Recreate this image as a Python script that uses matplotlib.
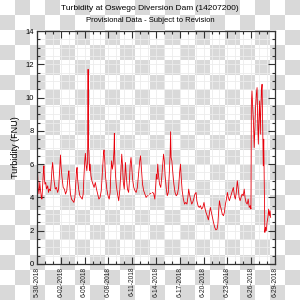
import numpy as np
import matplotlib
matplotlib.use("Agg")
import matplotlib.pyplot as plt
from matplotlib.ticker import MultipleLocator

plt.rcParams['font.family'] = ['Liberation Sans', 'DejaVu Sans']

title = "Turbidity at Oswego Diversion Dam (14207200)"
subtitle = "Provisional Data - Subject to Revision"
ylabel = "Turbidity (FNU)"
date_labels = ["5-30-2018", "6-02-2018", "6-05-2018", "6-08-2018", "6-11-2018",
               "6-14-2018", "6-17-2018", "6-20-2018", "6-23-2018", "6-26-2018",
               "6-29-2018"]
date_positions = [0, 3, 6, 9, 12, 15, 18, 21, 24, 27, 30]

# time in days since 5-30-2018 00:00
t_days = [0.00, 0.06, 0.15, 0.25, 0.35, 0.45, 0.55, 0.62, 0.72, 0.80, 0.87, 0.93,
          1.00, 1.10, 1.20, 1.35, 1.45, 1.55, 1.70, 1.80, 1.90, 1.97, 2.05, 2.15,
          2.30, 2.45, 2.60, 2.72, 2.82, 2.90, 2.96, 3.03, 3.15, 3.30, 3.45, 3.60,
          3.75, 3.85, 3.95, 4.02, 4.10, 4.22, 4.35, 4.50, 4.65, 4.78, 4.88, 4.98,
          5.05, 5.12, 5.25, 5.40, 5.55, 5.70, 5.82, 5.92, 6.02, 6.10, 6.18, 6.28,
          6.38, 6.44, 6.48, 6.55, 6.62, 6.70, 6.80, 6.92, 7.05, 7.20, 7.35, 7.50,
          7.65, 7.80, 7.95, 8.10, 8.25, 8.38, 8.45, 8.55, 8.65, 8.80, 8.95, 9.10,
          9.22, 9.32, 9.40, 9.50, 9.60, 9.70, 9.75, 9.80, 9.90, 10.00, 10.15, 10.30,
          10.45, 10.58, 10.68, 10.78, 10.88, 11.00, 11.08, 11.15, 11.25, 11.40, 11.55, 11.65,
          11.75, 11.85, 11.95, 12.05, 12.20, 12.35, 12.50, 12.65, 12.80, 12.95, 13.05, 13.15,
          13.30, 13.45, 13.60, 13.75, 13.90, 14.00, 14.10, 14.20, 14.35, 14.45, 14.55, 14.70,
          14.85, 14.95, 15.05, 15.12, 15.22, 15.32, 15.45, 15.60, 15.72, 15.85, 15.95, 16.05,
          16.15, 16.30, 16.42, 16.55, 16.68, 16.78, 16.84, 16.90, 17.00, 17.10, 17.25, 17.40,
          17.55, 17.70, 17.85, 17.98, 18.08, 18.18, 18.30, 18.45, 18.60, 18.75, 18.90, 19.02,
          19.12, 19.22, 19.35, 19.50, 19.62, 19.75, 19.90, 20.05, 20.15, 20.30, 20.45, 20.60,
          20.75, 20.90, 21.05, 21.15, 21.30, 21.45, 21.60, 21.72, 21.85, 21.98, 22.10, 22.25,
          22.40, 22.55, 22.70, 22.80, 22.90, 23.00, 23.10, 23.22, 23.35, 23.50, 23.62, 23.75,
          23.88, 24.00, 24.12, 24.25, 24.38, 24.50, 24.62, 24.75, 24.88, 25.00, 25.12, 25.25,
          25.35, 25.48, 25.60, 25.72, 25.85, 26.00, 26.12, 26.22, 26.35, 26.50, 26.62, 26.75,
          26.88, 26.97, 27.02, 27.10, 27.18, 27.28, 27.38, 27.46, 27.55, 27.65, 27.74, 27.82,
          27.90, 27.98, 28.06, 28.15, 28.22, 28.30, 28.37, 28.45, 28.52, 28.58, 28.65, 28.72,
          28.80, 28.90, 29.00, 29.10, 29.20, 29.28, 29.38, 29.45]

turbidity = [5.5, 5.7, 4.6, 4.2, 4.9, 4.4, 4.0, 3.9, 4.8, 5.5, 5.9, 5.2,
             4.8, 4.9, 4.5, 4.7, 4.3, 4.5, 4.4, 5.0, 5.8, 6.1, 5.6, 5.0,
             4.5, 4.6, 4.3, 4.5, 5.4, 6.2, 6.55, 5.9, 5.2, 4.6, 4.5, 4.2,
             4.4, 4.9, 5.4, 5.6, 4.9, 4.2, 3.9, 3.8, 3.7, 4.0, 4.8, 5.6,
             5.8, 5.1, 4.5, 4.1, 4.0, 3.9, 4.2, 5.3, 6.2, 6.65, 6.0, 5.6,
             6.2, 11.7, 7.2, 6.6, 5.6, 6.0, 5.3, 5.0, 4.8, 4.6, 4.9, 4.5,
             4.2, 3.9, 4.0, 4.4, 5.6, 6.6, 6.85, 6.1, 5.2, 4.5, 4.1, 3.9,
             4.3, 5.6, 6.2, 5.7, 6.0, 6.8, 7.85, 6.4, 5.3, 4.7, 4.2, 3.8,
             4.5, 5.6, 6.6, 5.9, 4.9, 4.5, 5.3, 6.1, 5.3, 4.5, 4.3, 5.0,
             6.0, 6.4, 5.8, 5.1, 4.6, 4.4, 4.3, 4.6, 5.4, 6.2, 6.5, 5.8,
             4.8, 4.4, 4.2, 4.0, 4.1, 4.1, np.nan, 4.2, 4.25, np.nan, 4.3, 4.25,
             3.9, 4.6, 5.4, 5.1, 6.0, 5.3, 4.8, 4.6, 5.2, 6.0, 6.6, 6.2,
             5.3, 4.5, 4.1, 4.3, 5.5, 6.6, 7.95, 6.4, 6.2, 5.6, 4.8, 4.3,
             4.1, 4.2, 4.6, 5.5, 6.0, 5.2, 4.4, 3.9, 3.6, 3.7, 3.6, 4.0,
             4.5, 4.2, 3.9, 3.6, 3.7, 3.9, 4.2, 4.3, 3.8, 3.5, 3.4, 3.5,
             3.3, 3.4, 3.7, 3.4, 3.1, 2.9, 2.65, 3.0, 3.4, 3.1, 2.8, 2.5,
             2.2, 2.05, 2.1, 2.4, 3.2, 3.8, 3.5, 3.3, 3.0, 2.9, 3.1, 3.6,
             3.9, 4.3, 4.0, 3.8, 4.0, 4.2, 4.4, 4.6, 4.1, 3.9, 4.3, 5.0,
             4.6, 4.0, 3.8, 4.0, 4.2, 4.1, 4.5, 4.0, 3.7, 3.6, 3.9, 3.4,
             3.5, 3.3, 9.6, 10.4, 9.5, 8.6, 7.0, 8.2, 9.4, 10.2, 10.6, 8.5,
             7.2, 8.8, 9.8, 7.8, 9.4, 10.4, 10.8, 8.0, 5.9, 7.5, 4.5, 1.9,
             2.2, 2.0, 2.5, 2.8, 3.3, 2.9, 3.2, 2.8]

W, H = 300, 300
fig = plt.figure(figsize=(3, 3), dpi=100)

# transparency checkerboard background
bg = fig.add_axes([0, 0, 1, 1], zorder=-10)
sq = 15
rows, cols = H // sq, W // sq
board = (np.add.outer(np.arange(rows), np.arange(cols)) % 2).astype(float)
bg.imshow(board, cmap=matplotlib.colors.ListedColormap(['#ffffff', '#d9d9d9']),
          extent=[0, W, H, 0], interpolation='nearest', aspect='auto')
bg.set_xlim(0, W)
bg.set_ylim(H, 0)
bg.axis('off')

ax = fig.add_axes([37 / W, 1 - 264 / H, (275 - 37) / W, (264 - 31) / H])
ax.set_facecolor('none')
ax.plot(t_days, turbidity, color='#e8000b', lw=0.6)

ax.set_xlim(0, 30)
ax.set_ylim(0, 14)
ax.set_xticks(date_positions)
ax.set_xticklabels(date_labels, rotation=90, fontsize=4.8, color='#222222')
ax.xaxis.set_minor_locator(MultipleLocator(1))
ax.yaxis.set_major_locator(MultipleLocator(2))
ax.yaxis.set_minor_locator(MultipleLocator(0.5))
ax.tick_params(axis='both', which='both', direction='in', top=True, right=True,
               color='#333333', width=0.8)
ax.tick_params(axis='both', which='major', length=5, pad=2)
ax.tick_params(axis='y', which='major', labelsize=5.5)
ax.tick_params(axis='both', which='minor', length=2.5)
ax.grid(which='both', color='#ececec', lw=0.6)
ax.set_axisbelow(True)
for s in ax.spines.values():
    s.set_color('#333333')
    s.set_linewidth(0.9)

ax.set_ylabel(ylabel, fontsize=6.5, labelpad=4)
fig.text(0.5, 1 - 9 / H, title, ha='center', va='center', fontsize=6)
fig.text(0.5, 1 - 20 / H, subtitle, ha='center', va='center', fontsize=5.5)

fig.savefig("out.png", dpi=100)
